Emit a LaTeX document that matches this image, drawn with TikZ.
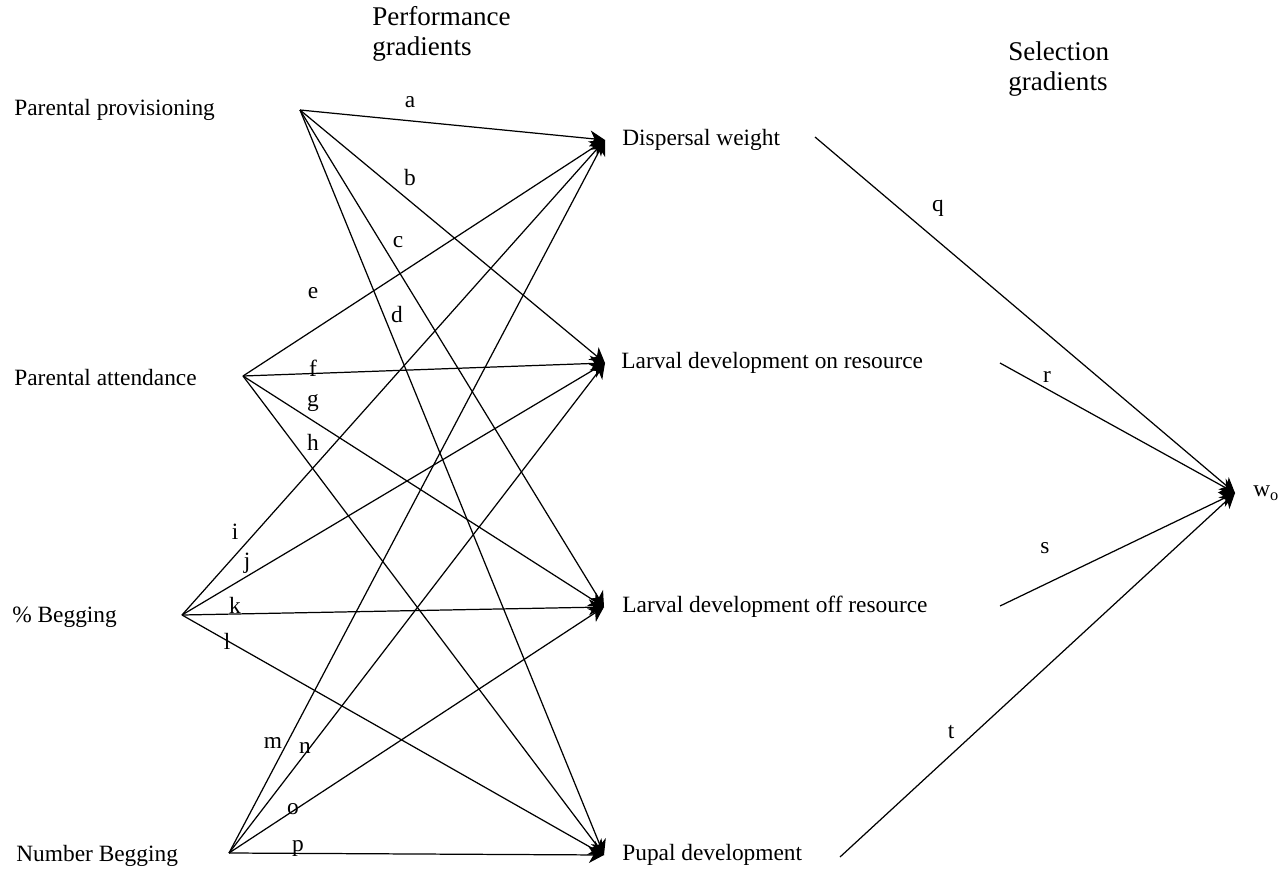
\documentclass[tikz,border=0pt]{standalone}
\usepackage{fontspec}
\setmainfont{Liberation Serif}
\usetikzlibrary{arrows.meta,positioning}
\tikzset{
  trait/.style={anchor=west, inner sep=0pt, font=\fontsize{13.3}{16}\selectfont},
  hdr/.style={anchor=west, inner sep=0pt, align=left, font=\fontsize{15.4}{17.5}\selectfont},
  lbl/.style={inner sep=0pt, font=\fontsize{13.3}{16}\selectfont},
  arr/.style={-{Stealth[length=3mm, width=3.2mm, inset=0.9mm]}, line width=0.7pt},
}

\begin{document}
\begin{tikzpicture}[x=0.02cm, y=-0.02cm]
\useasboundingbox (0,0) rectangle (1283,871);

% Headings
\node[hdr] (perf) at (372,34) {Performance\\gradients};
\node[hdr] (sel) at (1008,69) {Selection\\gradients};

% Traits
\node[trait] (prov) at (14,110) {Parental provisioning};
\node[trait] (att) at (14,378) {Parental attendance};
\node[trait] (pbeg) at (12,617) {\% Begging};
\node[trait] (nbeg) at (16,856) {Number Begging};

\coordinate (sprov) at (300,110);
\coordinate (satt) at (243,376);
\coordinate (spbeg) at (182,615);
\coordinate (snbeg) at (229,853);

% Performance measures
\coordinate (tdisp) at (605,140);
\coordinate (tlon) at (605,363);
\coordinate (tloff) at (604,607);
\coordinate (tpup) at (604,855);

\node[trait, right=0.34cm of tdisp] (disp) {Dispersal weight};
\node[trait, right=0.32cm of tlon] (lon) {Larval development on resource};
\node[trait, right=0.36cm of tloff] (loff) {Larval development off resource};
\node[trait, right=0.36cm of tpup] (pup) {Pupal development};

% Fitness
\coordinate (tw) at (1235,493);
\node[trait, right=0.36cm of tw] (wo) {w\textsubscript{o}};

\coordinate (sq) at (815,137);
\coordinate (sr) at (1000,363);
\coordinate (ss) at (1000,606);
\coordinate (st) at (840,857);

% Performance gradients
\draw[arr] (sprov) -- (tdisp);
\draw[arr] (sprov) -- (tlon);
\draw[arr] (sprov) -- (tloff);
\draw[arr] (sprov) -- (tpup);
\draw[arr] (satt) -- (tdisp);
\draw[arr] (satt) -- (tlon);
\draw[arr] (satt) -- (tloff);
\draw[arr] (satt) -- (tpup);
\draw[arr] (spbeg) -- (tdisp);
\draw[arr] (spbeg) -- (tlon);
\draw[arr] (spbeg) -- (tloff);
\draw[arr] (spbeg) -- (tpup);
\draw[arr] (snbeg) -- (tdisp);
\draw[arr] (snbeg) -- (tlon);
\draw[arr] (snbeg) -- (tloff);
\draw[arr] (snbeg) -- (tpup);

% Selection gradients
\draw[arr] (sq) -- (tw);
\draw[arr] (sr) -- (tw);
\draw[arr] (ss) -- (tw);
\draw[arr] (st) -- (tw);

% Path labels
\node[lbl] (la) at (410,102) {a};
\node[lbl] (lb) at (410,178) {b};
\node[lbl] (lc) at (398,242) {c};
\node[lbl] (ld) at (397,315) {d};
\node[lbl] (le) at (313,293) {e};
\node[lbl] (lf) at (313,368) {f};
\node[lbl] (lg) at (313,403) {g};
\node[lbl] (lh) at (313,442) {h};
\node[lbl] (li) at (235,532) {i};
\node[lbl] (lj) at (247,563) {j};
\node[lbl] (lk) at (235,605) {k};
\node[lbl] (ll) at (227,641) {l};
\node[lbl] (lm) at (273,743) {m};
\node[lbl] (ln) at (305,748) {n};
\node[lbl] (lo) at (293,809) {o};
\node[lbl] (lp) at (298,848) {p};
\node[lbl] (lq) at (938,208) {q};
\node[lbl] (lr) at (1047,377) {r};
\node[lbl] (ls) at (1045,548) {s};
\node[lbl] (lt) at (951,732) {t};

\end{tikzpicture}
\end{document}
